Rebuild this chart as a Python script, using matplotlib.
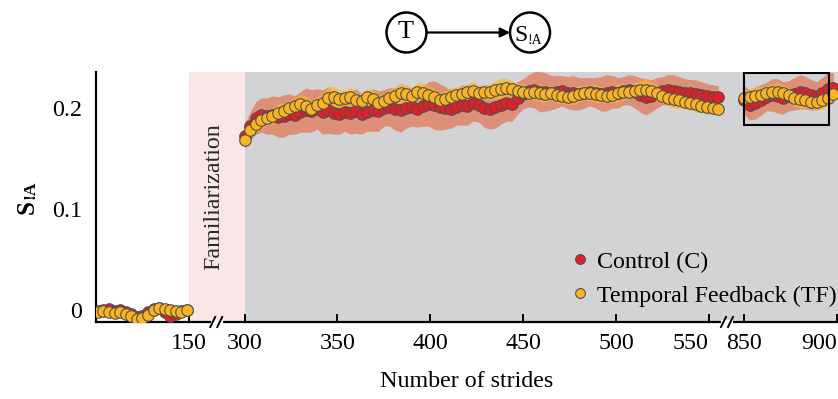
import numpy as np
import matplotlib.pyplot as plt
from matplotlib.lines import Line2D
from matplotlib.patches import Circle, Rectangle, FancyArrowPatch
from matplotlib.transforms import blended_transform_factory, IdentityTransform

plt.rcParams['font.family'] = ['Liberation Serif', 'DejaVu Serif']
plt.rcParams['mathtext.fontset'] = 'stix'

# baseline (last strides before familiarization)
base_strides = np.arange(101, 150, 3)
base_ctrl = [-0.001, 0.000, 0.001, -0.001, 0.000, -0.002, -0.004, -0.007, -0.006,
             -0.002, 0.001, 0.002, -0.002, -0.006, -0.004, -0.001, 0.000]
base_tf = [-0.002, -0.001, -0.002, -0.003, -0.002, -0.004, -0.006, -0.009, -0.008,
           -0.005, 0.000, 0.002, 0.001, 0.000, -0.001, -0.002, 0.000]
base_ctrl_sd = [0.003] * 17
base_tf_sd = [0.002] * 17

# adaptation strides
adapt_strides = np.arange(300, 556, 3)
adapt_ctrl = [0.172, 0.182, 0.190, 0.193, 0.192, 0.193, 0.191, 0.192, 0.194, 0.193,
              0.196, 0.198, 0.197, 0.199, 0.196, 0.198, 0.195, 0.194, 0.196, 0.195,
              0.197, 0.194, 0.196, 0.198, 0.197, 0.200, 0.201, 0.199, 0.198, 0.200,
              0.201, 0.199, 0.202, 0.204, 0.203, 0.201, 0.200, 0.199, 0.201, 0.203,
              0.202, 0.205, 0.203, 0.200, 0.199, 0.201, 0.203, 0.205, 0.204, 0.210,
              0.214, 0.217, 0.218, 0.216, 0.216, 0.215, 0.216, 0.217, 0.215, 0.215,
              0.214, 0.215, 0.216, 0.215, 0.214, 0.215, 0.216, 0.215, 0.217, 0.218,
              0.216, 0.213, 0.211, 0.212, 0.215, 0.217, 0.218, 0.217, 0.216, 0.215,
              0.215, 0.214, 0.213, 0.212, 0.211, 0.211]
adapt_tf = [0.168, 0.178, 0.184, 0.188, 0.190, 0.192, 0.195, 0.197, 0.200, 0.202,
            0.204, 0.202, 0.199, 0.203, 0.205, 0.210, 0.211, 0.209, 0.210, 0.211,
            0.208, 0.207, 0.211, 0.209, 0.205, 0.207, 0.210, 0.212, 0.215, 0.214,
            0.212, 0.216, 0.215, 0.213, 0.211, 0.208, 0.209, 0.211, 0.213, 0.214,
            0.216, 0.217, 0.215, 0.216, 0.216, 0.218, 0.219, 0.220, 0.219, 0.217,
            0.216, 0.215, 0.216, 0.215, 0.214, 0.215, 0.213, 0.212, 0.211, 0.212,
            0.214, 0.215, 0.215, 0.214, 0.213, 0.212, 0.213, 0.215, 0.216, 0.216,
            0.217, 0.218, 0.218, 0.217, 0.215, 0.212, 0.210, 0.209, 0.208, 0.206,
            0.205, 0.204, 0.202, 0.201, 0.200, 0.199]
adapt_ctrl_sd = [0.012, 0.014, 0.016, 0.017, 0.018, 0.019, 0.020, 0.021, 0.020, 0.019,
                 0.020, 0.022, 0.021, 0.020, 0.022, 0.023, 0.021, 0.020, 0.019, 0.021,
                 0.022, 0.020, 0.019, 0.021, 0.020, 0.018, 0.019, 0.021, 0.022, 0.020,
                 0.019, 0.018, 0.020, 0.022, 0.024, 0.023, 0.021, 0.019, 0.018, 0.020,
                 0.019, 0.018, 0.017, 0.019, 0.020, 0.021, 0.019, 0.018, 0.017, 0.016,
                 0.015, 0.016, 0.018, 0.020, 0.019, 0.017, 0.016, 0.015, 0.016, 0.017,
                 0.016, 0.015, 0.014, 0.015, 0.017, 0.018, 0.016, 0.015, 0.014, 0.015,
                 0.016, 0.017, 0.018, 0.016, 0.015, 0.014, 0.015, 0.016, 0.015, 0.014,
                 0.013, 0.014, 0.013, 0.012, 0.012, 0.011]
adapt_tf_sd = [0.006, 0.007, 0.008, 0.008, 0.007, 0.008, 0.009, 0.008, 0.007, 0.008,
               0.009, 0.010, 0.009, 0.008, 0.009, 0.011, 0.010, 0.009, 0.008, 0.009,
               0.008, 0.007, 0.008, 0.009, 0.008, 0.007, 0.008, 0.009, 0.010, 0.009,
               0.008, 0.009, 0.010, 0.009, 0.008, 0.007, 0.008, 0.009, 0.008, 0.007,
               0.008, 0.009, 0.008, 0.007, 0.008, 0.009, 0.010, 0.009, 0.008, 0.007,
               0.008, 0.007, 0.008, 0.009, 0.008, 0.007, 0.008, 0.007, 0.008, 0.009,
               0.008, 0.007, 0.008, 0.009, 0.008, 0.007, 0.008, 0.009, 0.008, 0.007,
               0.008, 0.009, 0.010, 0.009, 0.008, 0.007, 0.008, 0.009, 0.008, 0.007,
               0.007, 0.008, 0.007, 0.007, 0.006, 0.006]

# retention strides
post_strides = np.arange(850, 899, 3)
post_ctrl = [0.208, 0.203, 0.205, 0.208, 0.211, 0.213, 0.212, 0.210, 0.212,
             0.214, 0.216, 0.215, 0.213, 0.212, 0.215, 0.219, 0.220]
post_tf = [0.210, 0.211, 0.212, 0.213, 0.215, 0.216, 0.216, 0.215, 0.213,
           0.210, 0.209, 0.208, 0.206, 0.206, 0.208, 0.210, 0.214]
post_ctrl_sd = [0.014, 0.015, 0.016, 0.015, 0.014, 0.016, 0.017, 0.016, 0.015,
                0.016, 0.017, 0.016, 0.015, 0.014, 0.015, 0.016, 0.015]
post_tf_sd = [0.007, 0.008, 0.009, 0.008, 0.007, 0.008, 0.009, 0.008, 0.007,
              0.008, 0.009, 0.008, 0.007, 0.008, 0.009, 0.008, 0.007]

segments = [
    (base_strides, base_ctrl, base_ctrl_sd, base_tf, base_tf_sd),
    (adapt_strides, adapt_ctrl, adapt_ctrl_sd, adapt_tf, adapt_tf_sd),
    (post_strides, post_ctrl, post_ctrl_sd, post_tf, post_tf_sd),
]

xticks = [150, 300, 350, 400, 450, 500, 550, 850, 900]

# piecewise axis: compress familiarization and the 560-850 gap
x_knots = [0, 100, 150, 300, 560, 850, 1000]
u_knots = [-100, 0, 50, 80, 340, 349, 499]


def fwd(x):
    return np.interp(x, x_knots, u_knots)


def inv(u):
    return np.interp(u, u_knots, x_knots)


C_RED = '#E41E26'
C_ORANGE = '#FBB51B'
EDGE = '#505050'
FS = 17.3

fig = plt.figure(figsize=(8.38, 3.99), dpi=100)
W, H = 838, 399
ax = fig.add_axes([96 / W, (H - 322) / H, (838 - 96) / W, (322 - 72) / H])
ax.set_xscale('function', functions=(fwd, inv))
ax.set_xlim(100, 900.5)
ax.set_ylim(-0.0119, 0.2356)

ax.axvspan(150, 300, color='#FAE6E6', lw=0, zorder=0)
ax.axvspan(300, 1000, color='#D1D3D4', lw=0, zorder=0)

for strides, ctrl, ctrl_sd, tf, tf_sd in segments:
    ctrl = np.array(ctrl)
    tf = np.array(tf)
    ax.fill_between(strides, ctrl - ctrl_sd, ctrl + ctrl_sd, color='#E2785A',
                    alpha=0.75, lw=0, zorder=1)
    ax.fill_between(strides, tf - tf_sd, tf + tf_sd, color='#FDB42C',
                    alpha=0.7, lw=0, zorder=2)
for strides, ctrl, ctrl_sd, tf, tf_sd in segments:
    ax.plot(strides, ctrl, 'o', color=C_RED, mec=EDGE, mew=0.8, ms=8.3, zorder=3)
for strides, ctrl, ctrl_sd, tf, tf_sd in segments:
    ax.plot(strides, tf, 'o', color=C_ORANGE, mec=EDGE, mew=0.8, ms=8.3, zorder=4)

ax.add_patch(Rectangle((850, 0.183), 45.7, 0.0517, fill=False, ec='black',
                       lw=1.5, zorder=6))

ax.text(218, 0.112, 'Familiarization', rotation=90, ha='center', va='center',
        fontsize=FS, color='#2a2a2a')

for side in ['top', 'right']:
    ax.spines[side].set_visible(False)
for side in ['left', 'bottom']:
    ax.spines[side].set_linewidth(1.6)

ax.set_xticks(xticks)
ax.set_xticklabels([str(t) for t in xticks])
ax.set_yticks([0, 0.1, 0.2])
ax.set_yticklabels(['0', '0.1', '0.2'])
ax.tick_params(axis='x', direction='in', length=6, width=1.4, pad=8, labelsize=FS)
ax.tick_params(axis='y', length=0, pad=10, labelsize=FS)
for lab in ax.get_xticklabels():
    if lab.get_text() in ('550', '900'):
        lab.set_horizontalalignment('right')

ax.set_xlabel('Number of strides', fontsize=FS, labelpad=12)

# y label: bold S followed by a smaller !A on the same baseline
fig.text(34 / W, 1 - 214 / H, 'S', rotation=90, rotation_mode='anchor', ha='left',
         va='baseline', fontsize=18, fontweight='bold')
fig.text(34 / W, 1 - 199 / H, '!A', rotation=90, rotation_mode='anchor', ha='left',
         va='baseline', fontsize=12.5, fontweight='bold')

handles = [Line2D([], [], ls='none', marker='o', color=C_RED, mec=EDGE, mew=0.8, ms=7),
           Line2D([], [], ls='none', marker='o', color=C_ORANGE, mec=EDGE, mew=0.8, ms=7)]
ax.legend(handles, ['Control (C)', 'Temporal Feedback (TF)'], loc='upper left',
          bbox_to_anchor=(572 / W, 1 - 251 / H), bbox_transform=fig.transFigure,
          frameon=False, fontsize=FS, handlelength=0.67, handletextpad=0.37,
          labelspacing=0.5, borderpad=0, borderaxespad=0)

# axis break marks
trans = blended_transform_factory(ax.transData, ax.transAxes)
for bx in [225, 560]:
    px, py = trans.transform((bx, 0))
    fig.add_artist(Line2D([px - 4, px + 4], [py, py], color='white', lw=3,
                          transform=IdentityTransform(), zorder=10))
    for off in [-4, 3]:
        fig.add_artist(Line2D([px + off - 2.5, px + off + 2.5], [py - 5, py + 5],
                              color='black', lw=1.4, transform=IdentityTransform(),
                              zorder=11))

# T -> S!A diagram
dpi_t = fig.dpi_scale_trans
cy = (H - 32.5) / 100
fig.add_artist(Circle((4.065, cy), 0.2, fill=False, lw=1.8, ec='black', transform=dpi_t))
fig.add_artist(Circle((5.30, cy), 0.2, fill=False, lw=1.8, ec='black', transform=dpi_t))
fig.add_artist(FancyArrowPatch((4.265, cy), (5.10, cy), arrowstyle='-|>',
                               mutation_scale=14, lw=1.6, color='black',
                               shrinkA=0, shrinkB=0, transform=dpi_t))
fig.text(406 / W, 1 - 32.5 / H, 'T', ha='center', va='center', fontsize=19)
fig.text(514 / W, 1 - 41 / H, 'S', ha='left', va='baseline', fontsize=17)
fig.text(527 / W, 1 - 44 / H, '!A', ha='left', va='baseline', fontsize=10)

fig.savefig('out.png', dpi=100)
